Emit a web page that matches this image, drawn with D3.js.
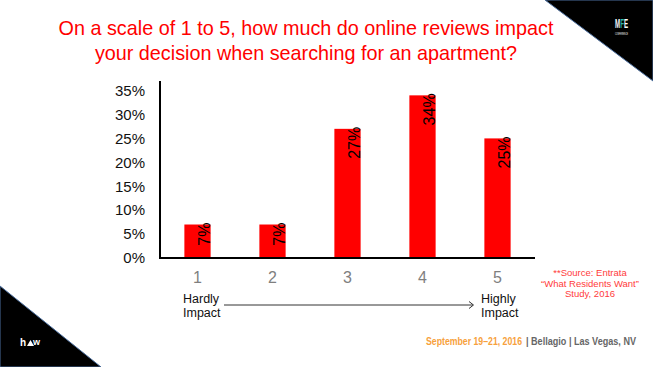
<!DOCTYPE html>
<html>
<head>
<meta charset="utf-8">
<script src="https://cdn.jsdelivr.net/npm/d3@7"></script>
<style>
  html, body { margin: 0; padding: 0; background: #fff; }
  svg { display: block; font-family: "Liberation Sans", Arial, sans-serif; }
</style>
</head>
<body>
<svg id="chart" width="653" height="367"></svg>
<script>
const ratings = ["1", "2", "3", "4", "5"];
const shares = [0.07, 0.07, 0.27, 0.34, 0.25];
const yTicks = [0, 0.05, 0.10, 0.15, 0.20, 0.25, 0.30, 0.35];
const titleLines = [
    "On a scale of 1 to 5, how much do online reviews impact",
    "your decision when searching for an apartment?"
];
const sourceLines = ["**Source: Entrata", "\u201CWhat Residents Want\u201D", "Study, 2016"];

const svg = d3.select("#chart");

// slide decoration
svg.append("path")
    .attr("d", "M545,0 L653,0 L653,81 Z")
    .attr("fill", "#000")
    .attr("stroke", "#4a6d9c")
    .attr("stroke-width", 1);

svg.append("path")
    .attr("d", "M0,286 L101,367 L0,367 Z")
    .attr("fill", "#000")
    .attr("stroke", "#4a6d9c")
    .attr("stroke-width", 1);

// MFE logo, teal F done with a hard-stop gradient
const grad = svg.append("defs").append("linearGradient")
    .attr("id", "mfe-grad")
    .attr("gradientUnits", "userSpaceOnUse")
    .attr("x1", 615).attr("x2", 628)
    .attr("y1", 0).attr("y2", 0);
[[0, "#fff"], [0.4, "#fff"], [0.4, "#2ab7a9"], [0.7, "#2ab7a9"], [0.7, "#fff"], [1, "#fff"]]
    .forEach(s => grad.append("stop").attr("offset", s[0]).attr("stop-color", s[1]));

svg.append("text")
    .attr("x", 615)
    .attr("y", 28)
    .attr("font-size", 13)
    .attr("font-weight", "bold")
    .attr("textLength", 13)
    .attr("lengthAdjust", "spacingAndGlyphs")
    .attr("fill", "url(#mfe-grad)")
    .text("MFE");

svg.append("text")
    .attr("x", 615)
    .attr("y", 35)
    .attr("font-size", 4)
    .attr("textLength", 13)
    .attr("lengthAdjust", "spacingAndGlyphs")
    .attr("fill", "#fff")
    .text("CONFERENCE");

svg.append("text")
    .attr("x", 20)
    .attr("y", 346)
    .attr("font-size", 10)
    .attr("font-weight", "bold")
    .attr("fill", "#fff")
    .text("h");
svg.append("path")
    .attr("d", "M27,346 L30.5,340 L34,346 Z")
    .attr("fill", "#fff");
svg.append("text")
    .attr("x", 33)
    .attr("y", 345)
    .attr("font-size", 9)
    .attr("font-weight", "bold")
    .attr("fill", "#fff")
    .text("w");

// title
svg.append("g")
    .selectAll("text")
    .data(titleLines)
    .join("text")
    .attr("x", 306)
    .attr("y", (d, i) => 35 + i * 25)
    .attr("text-anchor", "middle")
    .attr("font-size", 19.8)
    .attr("fill", "#ff0000")
    .text(d => d);

// chart
const x = d3.scaleBand()
    .domain(ratings)
    .range([160, 535])
    .paddingInner(0.65)
    .paddingOuter(0.325);

const y = d3.scaleLinear()
    .domain([0, 0.37])
    .range([258, 81]);

const data = ratings.map((r, i) => ({ rating: r, value: shares[i] }));

svg.append("g")
    .selectAll("rect")
    .data(data)
    .join("rect")
    .attr("x", d => x(d.rating))
    .attr("y", d => y(d.value))
    .attr("width", x.bandwidth())
    .attr("height", d => y(0) - y(d.value))
    .attr("fill", "#ff0000");

const yAxis = svg.append("g")
    .attr("transform", "translate(160,0)")
    .call(d3.axisLeft(y).tickValues(yTicks).tickSize(0).tickPadding(15)
        .tickFormat(d3.format(".0%")));
yAxis.select(".domain").remove();
yAxis.selectAll("text")
    .attr("font-family", "'Liberation Sans', Arial, sans-serif")
    .attr("font-size", 15)
    .attr("fill", "#111");

svg.append("line")
    .attr("x1", 160).attr("x2", 160)
    .attr("y1", y.range()[1]).attr("y2", y(0) + 1)
    .attr("stroke", "#000")
    .attr("stroke-width", 2);

svg.append("line")
    .attr("x1", 159).attr("x2", 535)
    .attr("y1", y(0)).attr("y2", y(0))
    .attr("stroke", "#000")
    .attr("stroke-width", 2);

const xAxis = svg.append("g")
    .attr("transform", `translate(0,${y(0)})`)
    .call(d3.axisBottom(x).tickSize(0).tickPadding(14));
xAxis.select(".domain").remove();
xAxis.selectAll("text")
    .attr("font-family", "'Liberation Sans', Arial, sans-serif")
    .attr("font-size", 16)
    .attr("fill", "#7f7f7f");

// value labels
svg.append("g")
    .selectAll("text")
    .data(data)
    .join("text")
    .attr("transform", d => `translate(${x(d.rating) + x.bandwidth() - 0.5},${y(d.value) - 2}) rotate(-90)`)
    .attr("text-anchor", "end")
    .attr("font-size", 16)
    .attr("fill", "#000")
    .text(d => d3.format(".0%")(d.value));

// scale ends
const ends = [
    { lines: ["Hardly", "Impact"], x: 183 },
    { lines: ["Highly", "Impact"], x: 481 }
];
ends.forEach(e => {
    svg.append("g")
        .selectAll("text")
        .data(e.lines)
        .join("text")
        .attr("x", e.x)
        .attr("y", (d, i) => 302.5 + i * 14)
        .attr("font-size", 12.5)
        .attr("fill", "#111")
        .text(d => d);
});

svg.append("line")
    .attr("x1", 224).attr("x2", 473)
    .attr("y1", 305).attr("y2", 305)
    .attr("stroke", "#333")
    .attr("stroke-width", 1);
svg.append("path")
    .attr("d", "M469,301.5 L473.5,305 L469,308.5")
    .attr("fill", "none")
    .attr("stroke", "#333")
    .attr("stroke-width", 1);

// source
svg.append("g")
    .selectAll("text")
    .data(sourceLines)
    .join("text")
    .attr("x", 590)
    .attr("y", (d, i) => 276 + i * 10.5)
    .attr("text-anchor", "middle")
    .attr("font-size", 9.5)
    .attr("fill", "#ff3b3b")
    .text(d => d);

// footer
svg.append("text")
    .attr("x", 426)
    .attr("y", 345)
    .attr("font-size", 10)
    .attr("font-weight", "bold")
    .attr("textLength", 96)
    .attr("lengthAdjust", "spacingAndGlyphs")
    .attr("fill", "#f7a13c")
    .text("September 19\u201321, 2016");
svg.append("text")
    .attr("x", 526)
    .attr("y", 345)
    .attr("font-size", 10)
    .attr("font-weight", "bold")
    .attr("textLength", 110)
    .attr("lengthAdjust", "spacingAndGlyphs")
    .attr("fill", "#666")
    .text("| Bellagio | Las Vegas, NV");
</script>
</body>
</html>
